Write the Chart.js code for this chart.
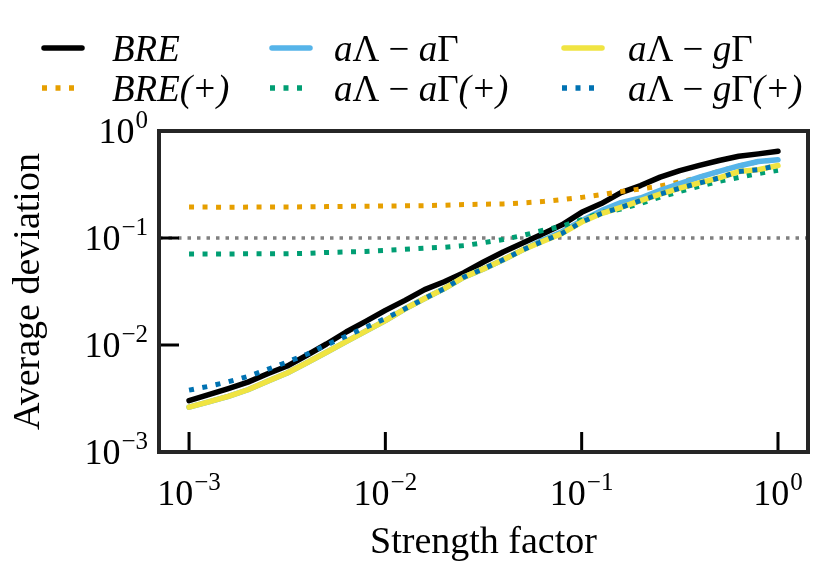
<!DOCTYPE html>
<html>
<head>
<meta charset="utf-8">
<script src="https://cdn.jsdelivr.net/npm/chart.js@4.4.1/dist/chart.umd.min.js"></script>
<style>
  html, body { margin: 0; padding: 0; background: #fff; }
  #wrap { width: 832px; height: 572px; position: relative; }
</style>
</head>
<body>
<div id="wrap"><canvas id="chart"></canvas></div>
<script>
// strength factor samples (log spaced in the source figure)
const strength = [0.001, 0.001259, 0.001585, 0.001995, 0.002512, 0.003162, 0.003981, 0.005012,
    0.00631, 0.007943, 0.01, 0.01259, 0.01585, 0.01995, 0.02512, 0.03162, 0.03981, 0.05012,
    0.0631, 0.07943, 0.1, 0.1259, 0.1585, 0.1995, 0.2512, 0.3162, 0.3981, 0.5012, 0.631, 0.7943, 1.0];

// average deviation per method
const bre = [0.003019, 0.003436, 0.003912, 0.004498, 0.005383, 0.006357, 0.008025, 0.01022, 0.01323, 0.01661,
    0.02105, 0.02613, 0.03292, 0.03903, 0.04739, 0.0597, 0.07408, 0.08977, 0.109, 0.1327,
    0.1738, 0.2097, 0.2658, 0.3092, 0.3705, 0.4254, 0.477, 0.5302, 0.5804, 0.6113, 0.6481];
const brePlus = [0.1944, 0.1944, 0.194, 0.1944, 0.1948, 0.1951, 0.1955, 0.1965, 0.1974, 0.1982,
    0.199, 0.1999, 0.2007, 0.2025, 0.2051, 0.2068, 0.2083, 0.2128, 0.2188, 0.2286,
    0.2396, 0.2545, 0.2716, 0.2873, 0.3058, 0.3334, 0.3697, 0.4199, 0.4709, 0.5189, 0.5383];
const aLaG = [0.002624, 0.002941, 0.003312, 0.003819, 0.004578, 0.005476, 0.006824, 0.008561, 0.01074, 0.01347,
    0.01689, 0.02179, 0.02722, 0.03363, 0.0431, 0.05144, 0.06257, 0.07751, 0.09536, 0.1146,
    0.1453, 0.1803, 0.2142, 0.2365, 0.2788, 0.3228, 0.3697, 0.4199, 0.4709, 0.5189, 0.5383];
const aLaGPlus = [0.07096, 0.07096, 0.07096, 0.07115, 0.07115, 0.07136, 0.07188, 0.07328, 0.07408, 0.07489,
    0.07652, 0.07835, 0.08023, 0.08199, 0.08487, 0.09035, 0.09681, 0.1057, 0.1175, 0.129,
    0.1484, 0.1726, 0.1862, 0.2097, 0.2412, 0.2716, 0.3045, 0.3385, 0.3682, 0.4005, 0.43];
const aLgG = [0.002624, 0.002941, 0.003312, 0.003819, 0.004578, 0.005476, 0.006824, 0.008561, 0.01074, 0.01347,
    0.01689, 0.02179, 0.02722, 0.03363, 0.0431, 0.05144, 0.06257, 0.07751, 0.09293, 0.1104,
    0.1409, 0.1693, 0.1931, 0.2237, 0.2573, 0.2922, 0.3269, 0.3642, 0.4181, 0.4356, 0.476];
const aLgGPlus = [0.003786, 0.00411, 0.004529, 0.005088, 0.005921, 0.006931, 0.008202, 0.01, 0.01209, 0.01459,
    0.01771, 0.02179, 0.02722, 0.03363, 0.0431, 0.05144, 0.06257, 0.07751, 0.09293, 0.1104,
    0.1409, 0.1693, 0.1931, 0.2237, 0.2573, 0.2922, 0.3269, 0.3642, 0.4181, 0.4356, 0.476];

const seriesLabels = ['BRE', 'BRE(+)', 'aΛ − aΓ', 'aΛ − aΓ(+)', 'aΛ − gΓ', 'aΛ − gΓ(+)'];
const seriesValues = [bre, brePlus, aLaG, aLaGPlus, aLgG, aLgGPlus];

const xTicks = [1e-3, 1e-2, 1e-1, 1];
const yTicks = [1e-3, 1e-2, 1e-1, 1];
const tickExponents = ['−3', '−2', '−1', '0'];
const refLevel = 0.1;
const xTitle = 'Strength factor';
const yTitle = 'Average deviation';

const DOT = [5, 8.5];
const styles = [
    { color: '#000000', dash: [] },
    { color: '#E69F00', dash: DOT },
    { color: '#56B4E9', dash: [] },
    { color: '#009E73', dash: DOT },
    { color: '#F0E442', dash: [] },
    { color: '#0072B2', dash: DOT }
];

const SERIF = '"Liberation Serif", "DejaVu Serif", serif';

// italic for latin letters, upright for greek and the minus sign
function drawMathText(ctx, text, x, y, size) {
    let cx = x;
    for (const ch of text) {
        const upright = /[\u0370-\u03FF\u2212 ]/.test(ch);
        ctx.font = (upright ? '' : 'italic ') + size + 'px ' + SERIF;
        ctx.fillText(ch, cx, y);
        cx += ctx.measureText(ch).width;
    }
}

function powerLabelWidth(ctx, exp) {
    ctx.font = '36px ' + SERIF;
    const w10 = ctx.measureText('10').width;
    ctx.font = '25px ' + SERIF;
    return [w10, ctx.measureText(exp).width];
}

function drawPowerLabel(ctx, exp, x, baseline) {
    ctx.font = '36px ' + SERIF;
    ctx.fillText('10', x, baseline);
    const w10 = ctx.measureText('10').width;
    ctx.font = '25px ' + SERIF;
    ctx.fillText(exp, x + w10 + 1, baseline - 15);
}

const axesDecor = {
    id: 'axesDecor',
    beforeDatasetsDraw(chart) {
        const { ctx, chartArea: a, scales: { y } } = chart;
        const py = y.getPixelForValue(refLevel);
        ctx.save();
        ctx.strokeStyle = '#808080';
        ctx.lineWidth = 3.5;
        ctx.setLineDash([3.5, 6]);
        ctx.beginPath();
        ctx.moveTo(a.left, py);
        ctx.lineTo(a.right, py);
        ctx.stroke();
        ctx.restore();
    },
    afterDraw(chart) {
        const { ctx, chartArea: a, scales: { x, y } } = chart;
        ctx.save();

        // ticks (inward, bottom and left only)
        ctx.strokeStyle = '#000';
        ctx.lineWidth = 3;
        xTicks.forEach(v => {
            const px = x.getPixelForValue(v);
            ctx.beginPath();
            ctx.moveTo(px, a.bottom);
            ctx.lineTo(px, a.bottom - 20);
            ctx.stroke();
        });
        yTicks.forEach(v => {
            const py = y.getPixelForValue(v);
            ctx.beginPath();
            ctx.moveTo(a.left, py);
            ctx.lineTo(a.left + 20, py);
            ctx.stroke();
        });

        // frame
        ctx.strokeStyle = '#262626';
        ctx.lineWidth = 4;
        ctx.strokeRect(a.left, a.top, a.right - a.left, a.bottom - a.top);

        // tick labels
        ctx.fillStyle = '#000';
        ctx.textAlign = 'left';
        ctx.textBaseline = 'alphabetic';
        xTicks.forEach((v, i) => {
            const px = x.getPixelForValue(v);
            const [w10, we] = powerLabelWidth(ctx, tickExponents[i]);
            drawPowerLabel(ctx, tickExponents[i], px - (w10 + we + 1) / 2, a.bottom + 53);
        });
        yTicks.forEach((v, i) => {
            const py = y.getPixelForValue(v);
            const [w10, we] = powerLabelWidth(ctx, tickExponents[i]);
            drawPowerLabel(ctx, tickExponents[i], a.left - 11 - (w10 + we + 1), py + 12);
        });

        // axis titles
        ctx.font = '38px ' + SERIF;
        ctx.textAlign = 'center';
        ctx.fillText(xTitle, (a.left + a.right) / 2, 553);
        ctx.save();
        ctx.translate(39, (a.top + a.bottom) / 2);
        ctx.rotate(-Math.PI / 2);
        ctx.fillText(yTitle, 0, 0);
        ctx.restore();

        // legend, three columns filled column-wise
        const colX = [42, 270, 562];
        const textX = [112, 334, 628];
        const rowY = [48, 88];
        ctx.textAlign = 'left';
        chart.data.datasets.forEach((ds, i) => {
            const col = Math.floor(i / 2), row = i % 2;
            const yy = rowY[row];
            ctx.strokeStyle = ds.borderColor;
            ctx.lineWidth = 5.5;
            ctx.setLineDash(ds.borderDash);
            ctx.lineCap = ds.borderDash.length ? 'butt' : 'round';
            ctx.beginPath();
            ctx.moveTo(colX[col] + (ds.borderDash.length ? 0 : 2), yy);
            ctx.lineTo(colX[col] + 40, yy);
            ctx.stroke();
            ctx.setLineDash([]);
            ctx.fillStyle = '#000';
            drawMathText(ctx, ds.label, textX[col], yy + 13, 37);
        });
        ctx.restore();
    }
};

const datasets = seriesValues.map((vals, i) => ({
    label: seriesLabels[i],
    data: strength.map((s, j) => ({ x: s, y: vals[j] })),
    borderColor: styles[i].color,
    backgroundColor: styles[i].color,
    borderWidth: styles[i].dash.length ? 5 : 5.5,
    borderDash: styles[i].dash,
    borderCapStyle: styles[i].dash.length ? 'butt' : 'round',
    borderJoinStyle: 'round',
    pointRadius: 0,
    tension: 0,
    fill: false,
    order: seriesValues.length - i
}));

new Chart(document.getElementById('chart').getContext('2d'), {
    type: 'line',
    data: { datasets },
    options: {
        responsive: true,
        maintainAspectRatio: false,
        animation: false,
        layout: { padding: { left: 159, right: 24, top: 131, bottom: 120 } },
        plugins: {
            legend: { display: false },
            tooltip: { enabled: false }
        },
        scales: {
            x: { type: 'logarithmic', min: 7.03e-4, max: 1.422, bounds: 'data', display: false },
            y: { type: 'logarithmic', min: 1e-3, max: 1, bounds: 'data', display: false }
        }
    },
    plugins: [axesDecor]
});
</script>
</body>
</html>
